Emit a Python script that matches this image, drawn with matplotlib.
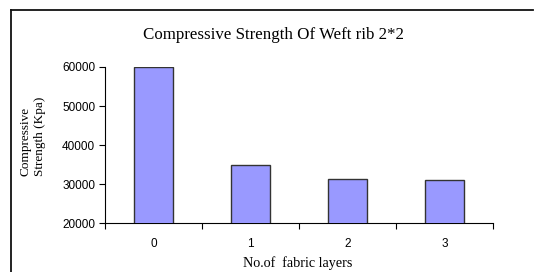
"""Compressive strength of weft rib 2*2 vs number of fabric layers."""

import matplotlib.pyplot as plt
from matplotlib.lines import Line2D

layers = ["0", "1", "2", "3"]
strength = [60000, 35000, 31400, 31100]
yticks = [20000, 30000, 40000, 50000, 60000]

C_BAR = "#9999FF"
C_EDGE = "#333333"

fig = plt.figure(figsize=(5.34, 2.72), dpi=100)
ax = fig.add_axes([0.1966, 0.180, 0.7264, 0.5737])

x = list(range(len(layers)))
ax.bar(x, strength, width=0.41, color=C_BAR, edgecolor=C_EDGE, linewidth=1.0, zorder=3)

ax.set_xlim(-0.5, len(layers) - 0.5)
ax.set_ylim(20000, 60000)
ax.set_yticks(yticks)
ax.set_yticklabels([str(v) for v in yticks], family="Liberation Sans", fontsize=8.5)
ax.set_xticks(x)
ax.set_xticklabels(layers, family="Liberation Sans", fontsize=8.5)
ax.set_xticks([i - 0.5 for i in range(len(layers) + 1)], minor=True)

ax.tick_params(axis="x", which="major", length=0, pad=11)
ax.tick_params(axis="x", which="minor", length=4, width=0.8, direction="out")
ax.tick_params(axis="y", length=4, width=0.8, direction="out", pad=3)

for side in ["top", "right"]:
    ax.spines[side].set_visible(False)
for side in ["left", "bottom"]:
    ax.spines[side].set_linewidth(0.8)

fig.text(0.512, 0.872, "Compressive Strength Of Weft rib 2*2", ha="center", va="center",
         family="Liberation Serif", fontsize=12.2)
fig.text(0.558, 0.008, "No.of  fabric layers", ha="center", va="bottom",
         family="Liberation Serif", fontsize=10.2)
fig.text(0.062, 0.352, "Compressive\nStrength (Kpa)", ha="center", va="bottom",
         rotation=90, multialignment="left", family="Liberation Serif",
         fontsize=9.5, linespacing=1.3)

# partial outer frame (top and left only)
fig.add_artist(Line2D([0.0206, 0.998], [0.963, 0.963], transform=fig.transFigure,
                      color="#111111", linewidth=1.3))
fig.add_artist(Line2D([0.0206, 0.0206], [0.963, 0.0], transform=fig.transFigure,
                      color="#111111", linewidth=1.3))

fig.savefig("out.png", dpi=100)
